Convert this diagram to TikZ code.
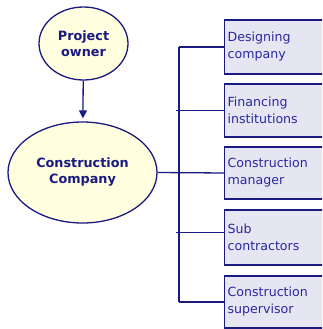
\documentclass[tikz,border=0pt]{standalone}
\usepackage{fontspec}
\setmainfont{DejaVu Sans}
\usetikzlibrary{arrows.meta,shapes.geometric}
\definecolor{navy}{RGB}{26,26,128}
\definecolor{boxtext}{RGB}{40,40,160}
\definecolor{cream}{RGB}{255,255,224}
\definecolor{lavender}{RGB}{230,230,242}
\tikzset{
  bubble/.style={ellipse,draw=navy,fill=cream,line width=1.3pt,text=navy,
    font=\fontsize{12.8}{16}\selectfont\bfseries,align=center,inner sep=0pt},
  party/.style={draw=navy,fill=lavender,line width=1.3pt,text=boxtext,anchor=west,
    font=\fontsize{12.6}{17}\selectfont,align=left,text width=110pt,
    minimum width=116pt,inner sep=3pt},
  link/.style={draw=navy,line width=1.3pt}
}
\begin{document}
\begin{tikzpicture}[x=1pt,y=-1pt]
\useasboundingbox (0,0) rectangle (322,329);
\clip (0,0) rectangle (322,329);
% the two main parties
\node[bubble,minimum width=89pt,minimum height=73pt] (owner) at (83.5,43.5) {Project\\owner};
\node[bubble,minimum width=149pt,minimum height=101pt] (company) at (82.5,172.5) {Construction\\Company};
\draw[link,-{Triangle[width=8pt,length=8pt]},shorten >=3pt] (owner) -- (company);
% the five partners on the right
\node[party,minimum height=54pt] (design) at (224,47) {Designing\\company};
\node[party,minimum height=53pt] (finance) at (224,110.5) {Financing\\institutions};
\node[party,minimum height=52pt] (manager) at (224,173) {Construction\\manager};
\node[party,minimum height=55pt] (sub) at (224,237.5) {Sub\\contractors};
\node[party,minimum height=52pt] (supervisor) at (224,302) {Construction\\supervisor};
% bracket joining them
\coordinate (trunktop) at (179,47);
\coordinate (trunkbot) at (179,302);
\coordinate (tickfin) at (176,110.5);
\coordinate (ticksub) at (176,232.5);
\draw[link] (trunktop) -- (trunkbot);
\draw[link] (trunktop) -- (design.west);
\draw[link] (tickfin) -- (finance.west);
\draw[link] (company.east) -- (manager.west);
\draw[link] (ticksub) -- ([yshift=5pt]sub.west);
\draw[link] (trunkbot) -- (supervisor.west);
\end{tikzpicture}
\end{document}
